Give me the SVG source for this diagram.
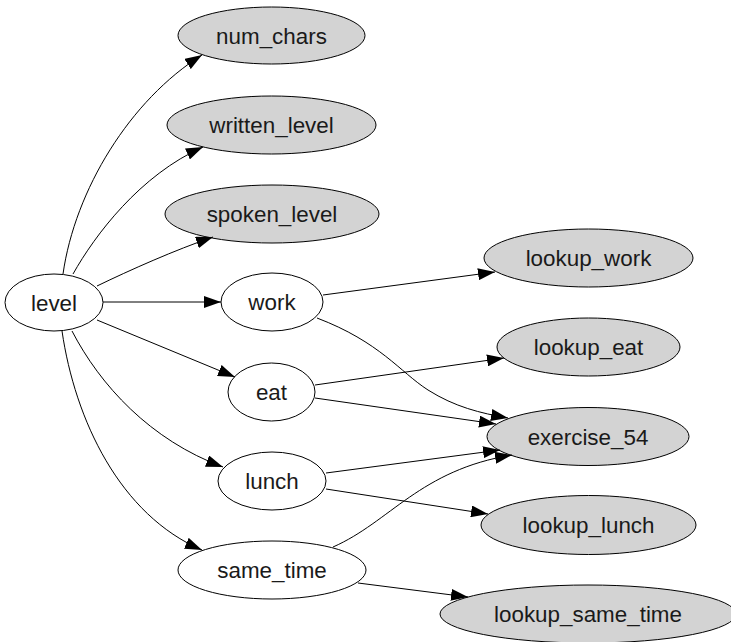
<svg xmlns="http://www.w3.org/2000/svg" width="731" height="642" viewBox="0 0 731 642">
<defs>
<style>
.n ellipse{stroke:#000;stroke-width:1}
.w ellipse{fill:#fff}
.g ellipse{fill:#d3d3d3}
.n text{font-family:"Liberation Sans",Arial,Helvetica,sans-serif;font-size:22.4px;fill:#1a1a1a;text-anchor:middle}
#edges path{fill:none;stroke:#000;stroke-width:1;marker-end:url(#ah)}
</style>
<marker id="ah" markerUnits="userSpaceOnUse" markerWidth="17" markerHeight="12" refX="17" refY="6" orient="auto" viewBox="0 0 17 12">
<path d="M0,0 L17,6 L0,12 z" fill="#000"/>
</marker>
</defs>
<rect width="731" height="642" fill="#fff"/>
<g id="node-level" class="n w"><ellipse cx="54" cy="302.5" rx="49" ry="28.5"/><text x="54" y="310.5">level</text></g>
<g id="node-num_chars" class="n g"><ellipse cx="271.5" cy="35.5" rx="93.5" ry="28.5"/><text x="271.5" y="43.5">num_chars</text></g>
<g id="node-written_level" class="n g"><ellipse cx="271.5" cy="125" rx="104.5" ry="29"/><text x="271.5" y="133">written_level</text></g>
<g id="node-spoken_level" class="n g"><ellipse cx="272" cy="214" rx="107" ry="29"/><text x="272" y="222">spoken_level</text></g>
<g id="node-work" class="n w"><ellipse cx="272" cy="302" rx="51" ry="29"/><text x="272" y="310">work</text></g>
<g id="node-eat" class="n w"><ellipse cx="271.5" cy="392" rx="43.5" ry="29"/><text x="271.5" y="400">eat</text></g>
<g id="node-lunch" class="n w"><ellipse cx="272" cy="481" rx="54" ry="29"/><text x="272" y="489">lunch</text></g>
<g id="node-same_time" class="n w"><ellipse cx="272" cy="570" rx="94" ry="29"/><text x="272" y="578">same_time</text></g>
<g id="node-lookup_work" class="n g"><ellipse cx="588.5" cy="258" rx="104.5" ry="29"/><text x="588.5" y="266">lookup_work</text></g>
<g id="node-lookup_eat" class="n g"><ellipse cx="588.5" cy="347" rx="91.5" ry="29"/><text x="588.5" y="355">lookup_eat</text></g>
<g id="node-exercise_54" class="n g"><ellipse cx="588" cy="436.5" rx="101" ry="29"/><text x="588" y="444.5">exercise_54</text></g>
<g id="node-lookup_lunch" class="n g"><ellipse cx="588.5" cy="525" rx="107.5" ry="29.5"/><text x="588.5" y="533">lookup_lunch</text></g>
<g id="node-lookup_same_time" class="n g"><ellipse cx="588" cy="614" rx="148" ry="29"/><text x="588" y="622">lookup_same_time</text></g>
<g id="edges">
<path d="M63,274 C75,190 130,100 202,55"/>
<path d="M73,274 C95,235 140,175 203,147"/>
<path d="M97,286 C130,270 175,250 213,237"/>
<path d="M103,302 L221,302"/>
<path d="M97,320 L235,377"/>
<path d="M72,331 C100,385 150,440 223,467"/>
<path d="M62,331 C75,420 120,515 202,550"/>
<path d="M323,295 L495,272"/>
<path d="M317,318 C380,342 400,372 428,390 C455,407 480,413 508,418"/>
<path d="M315,385 L504,358"/>
<path d="M315,398 L496,424"/>
<path d="M326,473 L500,450"/>
<path d="M326,489 L488,514"/>
<path d="M333,547 C390,522 420,470 512,455"/>
<path d="M358,583 L468,597"/>
</g>
</svg>
